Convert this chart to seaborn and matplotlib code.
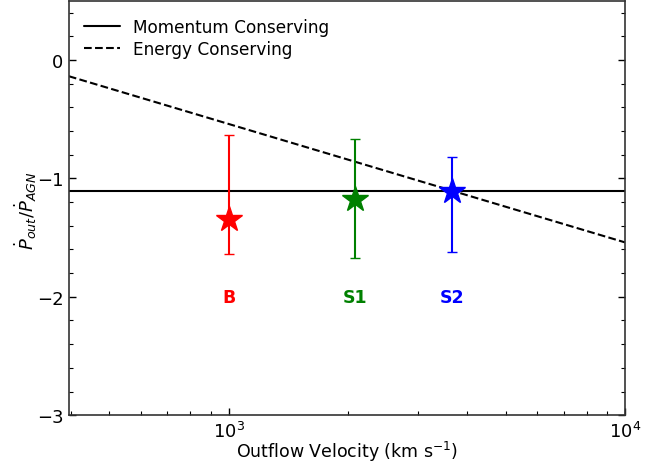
import numpy as np
import pandas as pd
import matplotlib
matplotlib.use("Agg")
import matplotlib.pyplot as plt
import seaborn as sns

# Outflow components: velocity (km/s) and log momentum-boost ratio
labels = ["B", "S1", "S2"]
velocity = [1000, 2080, 3670]
log_ratio = [-1.34, -1.17, -1.11]
err_upper = [0.71, 0.50, 0.29]
err_lower = [0.30, 0.50, 0.51]
colors = ["red", "green", "blue"]

# Model curves
momentum_level = -1.11
energy_const = 2.46  # log ratio = const - log10(v)

sns.set_theme(style="white")
plt.rcParams["font.family"] = ["DejaVu Sans"]
plt.rcParams["mathtext.fontset"] = "dejavusans"
for key in ["text.color", "axes.labelcolor", "xtick.color", "ytick.color"]:
    plt.rcParams[key] = "black"

fig = plt.figure(figsize=(6.62, 4.64), dpi=100)
ax = fig.add_axes([0.104, 0.103, 0.840, 0.893])

v_grid = np.logspace(np.log10(395), 4, 50)
curves = pd.DataFrame({
    "v": np.concatenate([v_grid, v_grid]),
    "y": np.concatenate([np.full_like(v_grid, momentum_level),
                         energy_const - np.log10(v_grid)]),
    "model": ["Momentum Conserving"] * len(v_grid) + ["Energy Conserving"] * len(v_grid),
})
sns.lineplot(data=curves, x="v", y="y", style="model", color="black",
             linewidth=1.5, ax=ax, legend=True,
             dashes={"Momentum Conserving": "", "Energy Conserving": (3.7, 1.6)})

pts = pd.DataFrame({"v": velocity, "y": log_ratio, "label": labels})
for i, row in pts.iterrows():
    ax.errorbar(row["v"], row["y"], yerr=[[err_lower[i]], [err_upper[i]]],
                fmt="*", color=colors[i], markersize=19, capsize=3.5,
                elinewidth=1.5, capthick=1.0, zorder=3)
    ax.text(row["v"], -2.0, row["label"], color=colors[i], fontsize=12.5,
            fontweight="bold", ha="center", va="center")

ax.set_xscale("log")
ax.set_xlim(395, 1e4)
ax.set_ylim(-3, 0.5)
ax.set_yticks([-3, -2, -1, 0])
ax.set_yticks(np.arange(-3, 0.5, 0.2), minor=True)
ax.tick_params(axis="both", which="both", direction="in", labelsize=13,
               left=True, right=True, bottom=True, top=False)
ax.tick_params(which="major", length=5, width=1, pad=4)
ax.tick_params(which="minor", length=3, width=0.8)
for s in ax.spines.values():
    s.set_color("#333333")
    s.set_linewidth(1.2)

ax.set_xlabel(r"Outflow Velocity (km s$^{-1}$)", fontsize=12.5, va="center")
ax.xaxis.set_label_coords(0.5, -0.087)
ax.set_ylabel(r"$\dot{P}_{out}/\dot{P}_{AGN}$", fontsize=13, va="center")
ax.yaxis.set_label_coords(-0.078, 0.497)

leg = ax.legend(loc="upper left", frameon=False, fontsize=12.2,
                handlelength=2.1, labelspacing=0.25,
                bbox_to_anchor=(0.0, 0.995))
leg.set_title(None)

fig.savefig("out.png", dpi=100)
